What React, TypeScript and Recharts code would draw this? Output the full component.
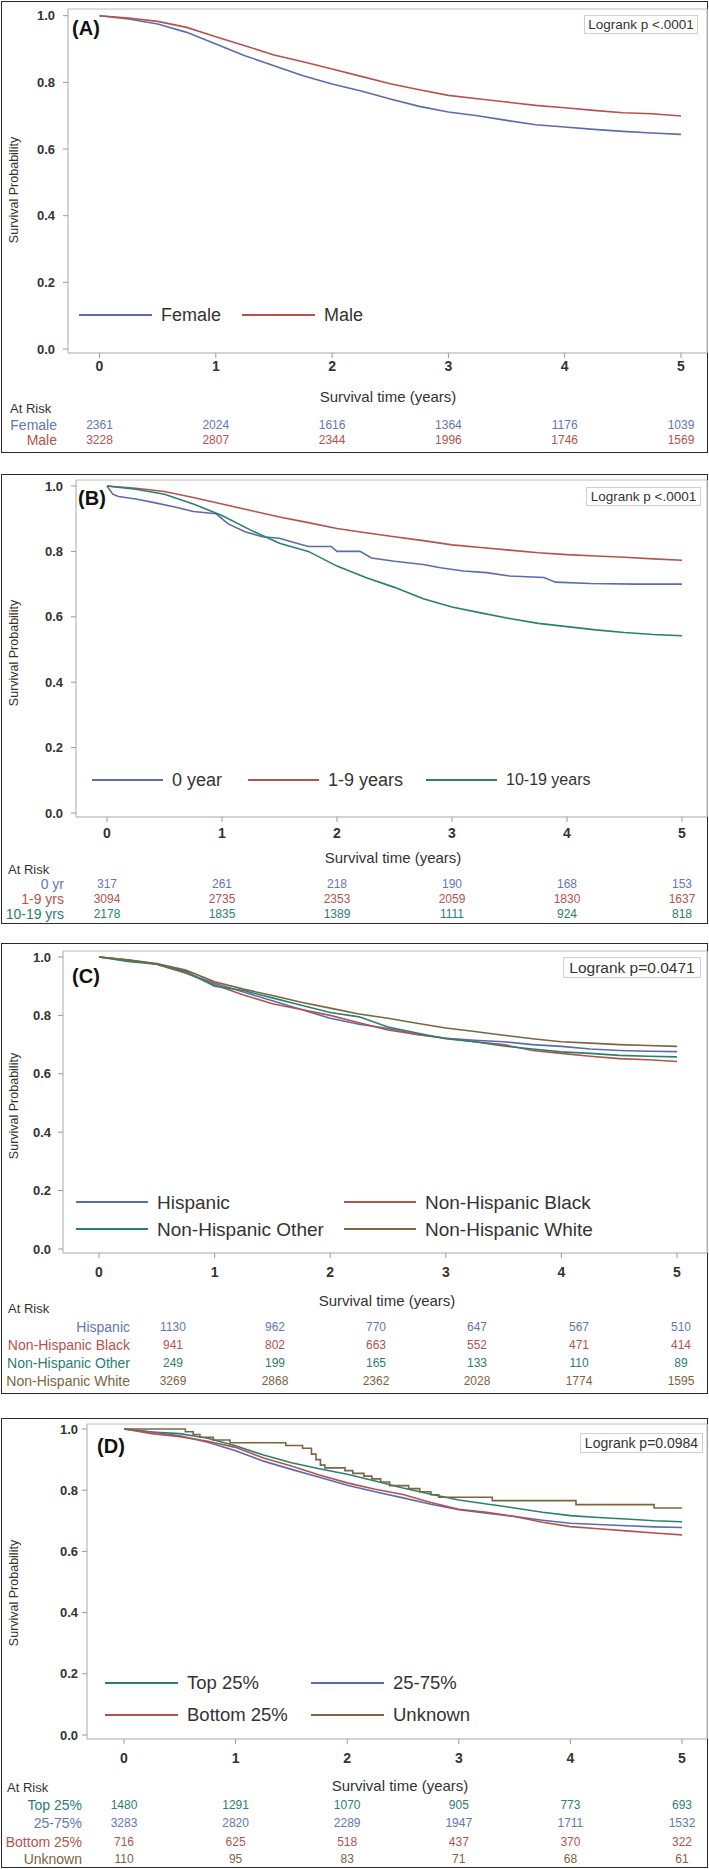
import React from "react";
import { LineChart, Line, XAxis, YAxis, ReferenceLine } from "recharts";

const FONT = '"Liberation Sans", Arial, Helvetica, sans-serif';
const INK = "#333333";
const BLUE = "#5b6cae";
const RED = "#b5524d";
const TEAL = "#2a8070";
const BROWN = "#7b6541";

const YEARS = [0, 1, 2, 3, 4, 5];
const PROB = [0, 0.2, 0.4, 0.6, 0.8, 1];
// times (years) the smooth curves were read at
const T = [0, 0.25, 0.5, 0.75, 1, 1.25, 1.5, 1.75, 2, 2.25, 2.5, 2.75, 3, 3.25, 3.5, 3.75, 4, 4.25, 4.5, 4.75, 5];

// (A) sex
const femaleSurv = [1, 0.99, 0.975, 0.95, 0.915, 0.88, 0.85, 0.82, 0.795, 0.774, 0.75, 0.728, 0.711, 0.7, 0.686, 0.673, 0.666, 0.659, 0.653, 0.648, 0.644];
const maleSurv = [1, 0.993, 0.983, 0.965, 0.937, 0.91, 0.882, 0.862, 0.84, 0.818, 0.796, 0.778, 0.761, 0.751, 0.741, 0.731, 0.724, 0.716, 0.709, 0.706, 0.699];
const femaleRisk = [2361, 2024, 1616, 1364, 1176, 1039];
const maleRisk = [3228, 2807, 2344, 1996, 1746, 1569];

// (B) age at diagnosis
const age0Times = [0, 0.05, 0.1, 0.25, 0.4, 0.6, 0.75, 0.95, 1.05, 1.2, 1.35, 1.5, 1.65, 1.75, 1.95, 2.0, 2.2, 2.3, 2.5, 2.75, 2.9, 3.1, 3.3, 3.5, 3.8, 3.9, 4.2, 4.6, 5];
const age0Surv = [1, 0.975, 0.968, 0.96, 0.95, 0.935, 0.922, 0.915, 0.885, 0.86, 0.845, 0.84, 0.825, 0.815, 0.815, 0.8, 0.8, 0.78, 0.77, 0.76, 0.75, 0.74, 0.735, 0.725, 0.72, 0.706, 0.702, 0.7, 0.7];
const age1to9Surv = [1, 0.993, 0.983, 0.965, 0.945, 0.925, 0.905, 0.888, 0.87, 0.857, 0.845, 0.833, 0.82, 0.812, 0.804, 0.796, 0.79, 0.786, 0.782, 0.777, 0.773];
const age10to19Surv = [1, 0.99, 0.975, 0.945, 0.91, 0.865, 0.825, 0.8, 0.755, 0.72, 0.69, 0.655, 0.63, 0.612, 0.595, 0.58, 0.57, 0.56, 0.552, 0.546, 0.542];
const age0Risk = [317, 261, 218, 190, 168, 153];
const age1to9Risk = [3094, 2735, 2353, 2059, 1830, 1637];
const age10to19Risk = [2178, 1835, 1389, 1111, 924, 818];

// (C) race / ethnicity
const hispanicSurv = [1, 0.99, 0.975, 0.945, 0.91, 0.88, 0.85, 0.82, 0.79, 0.77, 0.755, 0.735, 0.722, 0.715, 0.71, 0.7, 0.694, 0.685, 0.68, 0.677, 0.676];
const blackSurv = [1, 0.99, 0.975, 0.945, 0.905, 0.87, 0.84, 0.82, 0.8, 0.775, 0.75, 0.735, 0.722, 0.71, 0.7, 0.68, 0.67, 0.66, 0.652, 0.648, 0.642];
const otherSurv = [1, 0.985, 0.975, 0.95, 0.9, 0.885, 0.86, 0.835, 0.81, 0.795, 0.76, 0.74, 0.72, 0.71, 0.695, 0.685, 0.675, 0.67, 0.663, 0.66, 0.658];
const whiteSurv = [1, 0.99, 0.978, 0.955, 0.915, 0.89, 0.868, 0.845, 0.825, 0.805, 0.79, 0.773, 0.757, 0.745, 0.732, 0.72, 0.71, 0.705, 0.7, 0.697, 0.694];
const hispanicRisk = [1130, 962, 770, 647, 567, 510];
const blackRisk = [941, 802, 663, 552, 471, 414];
const otherRisk = [249, 199, 165, 133, 110, 89];
const whiteRisk = [3269, 2868, 2362, 2028, 1774, 1595];

// (D) neighbourhood income
const top25Surv = [1, 0.99, 0.985, 0.97, 0.945, 0.915, 0.89, 0.87, 0.852, 0.83, 0.807, 0.787, 0.768, 0.755, 0.742, 0.728, 0.717, 0.711, 0.706, 0.7, 0.697];
const mid50Surv = [1, 0.99, 0.978, 0.957, 0.929, 0.895, 0.868, 0.842, 0.816, 0.795, 0.775, 0.754, 0.736, 0.725, 0.714, 0.702, 0.692, 0.688, 0.684, 0.68, 0.678];
const bottom25Surv = [1, 0.985, 0.975, 0.96, 0.94, 0.905, 0.879, 0.85, 0.824, 0.803, 0.786, 0.76, 0.738, 0.728, 0.714, 0.695, 0.681, 0.674, 0.667, 0.66, 0.654];
const unknownTimes = [0, 0.55, 0.62, 0.68, 0.8, 0.95, 1.45, 1.6, 1.68, 1.72, 1.76, 1.8, 1.98, 2.05, 2.15, 2.22, 2.3, 2.38, 2.55, 2.65, 2.75, 2.82, 3.3, 4.05, 4.75, 5];
const unknownSurv = [1, 0.991, 0.982, 0.973, 0.964, 0.955, 0.946, 0.937, 0.918, 0.9, 0.882, 0.873, 0.864, 0.855, 0.846, 0.837, 0.827, 0.815, 0.805, 0.795, 0.785, 0.777, 0.766, 0.753, 0.742, 0.742];
const top25Risk = [1480, 1291, 1070, 905, 773, 693];
const mid50Risk = [3283, 2820, 2289, 1947, 1711, 1532];
const bottom25Risk = [716, 625, 518, 437, 370, 322];
const unknownRisk = [110, 95, 83, 71, 68, 61];

type Pt = { t: number; s: number };
const pts = (times: number[], surv: number[]): Pt[] => surv.map((s, i) => ({ t: times[i], s }));

interface Series { name: string; color: string; data: Pt[]; step?: boolean }
interface LegendItem { label: string; color: string; x: number; y: number; size: number }
interface RiskRow { label: string; color: string; values: number[]; y: number }

interface PanelCfg {
  letter: string;
  letterX: number;
  letterY: number;
  boxTop: number;
  boxBottom: number;
  axisX: number;
  t0: number;
  t5: number;
  frameTop: number;
  y1: number;
  y0: number;
  frameBottom: number;
  xTickMargin: number;
  yTickMargin: number;
  yTitleY: number;
  logrank: string;
  logBox: [number, number, number, number];
  logSize: number;
  series: Series[];
  legend: LegendItem[];
  legendLine: number;
  xTitle: [number, number];
  atRiskY: number;
  atRiskX: number;
  labelRight: number;
  riskCols?: number[];
  rows: RiskRow[];
}

const RIGHT = 707;
const XAH = 40;
const YW = 50;

function Txt(props: {
  x: number; y: number; size: number; color?: string; weight?: number | string;
  align?: "start" | "middle" | "end"; children: React.ReactNode;
}) {
  const tx = props.align === "end" ? "-100%" : props.align === "middle" ? "-50%" : "0";
  return (
    <div
      style={{
        position: "absolute",
        left: props.x,
        top: props.y,
        transform: `translate(${tx}, -50%)`,
        fontSize: props.size,
        color: props.color ?? INK,
        fontWeight: props.weight ?? "normal",
        fontFamily: FONT,
        whiteSpace: "nowrap",
        lineHeight: 1,
      }}
    >
      {props.children}
    </div>
  );
}

function Panel({ c }: { c: PanelCfg }) {
  const pxYear = (c.t5 - c.t0) / 5;
  const xMin = -(c.t0 - c.axisX) / pxYear;
  const xMax = 5 + (RIGHT - c.t5) / pxYear;
  const pxUnit = c.y0 - c.y1;
  const yMax = 1 + (c.y1 - c.frameTop) / pxUnit;
  const yMin = -(c.frameBottom - c.y0) / pxUnit;
  const chartTop = c.frameTop - 10;
  const chartH = c.frameBottom - c.frameTop + 10 + XAH;
  const colX = (t: number) => c.axisX + ((t - xMin) / (xMax - xMin)) * (RIGHT - c.axisX);
  const cols = c.riskCols ?? YEARS.map(colX);

  return (
    <>
      <div
        style={{
          position: "absolute",
          left: 1,
          top: c.boxTop,
          width: 707,
          height: c.boxBottom - c.boxTop,
          border: "1.5px solid #2a2a2a",
          boxSizing: "border-box",
        }}
      />
      <div style={{ position: "absolute", left: 0, top: chartTop }}>
        <LineChart
          width={709}
          height={chartH}
          margin={{ top: 10, right: 709 - RIGHT, bottom: 0, left: c.axisX - YW }}
        >
          <XAxis
            type="number"
            dataKey="t"
            domain={[xMin, xMax]}
            ticks={YEARS}
            allowDataOverflow
            height={XAH}
            tickSize={5}
            tickMargin={c.xTickMargin}
            axisLine={{ stroke: "#c4c4c4", strokeWidth: 1.5 }}
            tickLine={{ stroke: "#9a9a9a" }}
            tick={{ fill: INK, fontSize: 14, fontWeight: "bold", fontFamily: FONT }}
          />
          <YAxis
            type="number"
            dataKey="s"
            domain={[yMin, yMax]}
            ticks={PROB}
            allowDataOverflow
            width={YW}
            tickSize={5}
            tickMargin={c.yTickMargin}
            tickFormatter={(v: number) => v.toFixed(1)}
            axisLine={{ stroke: "#c4c4c4", strokeWidth: 1.5 }}
            tickLine={{ stroke: "#9a9a9a" }}
            tick={{ fill: INK, fontSize: 13, fontWeight: "bold", fontFamily: FONT }}
          />
          <ReferenceLine y={yMax} stroke="#d2d2d2" strokeWidth={1.5} />
          <ReferenceLine x={xMax} stroke="#d2d2d2" strokeWidth={1.5} />
          {c.series.map((s) => (
            <Line
              key={s.name}
              data={s.data}
              dataKey="s"
              name={s.name}
              type={s.step ? "stepAfter" : "linear"}
              stroke={s.color}
              strokeWidth={1.6}
              dot={false}
              activeDot={false}
              isAnimationActive={false}
            />
          ))}
        </LineChart>
      </div>

      <Txt x={c.letterX} y={c.letterY} size={20} weight="bold" color="#111">
        ({c.letter})
      </Txt>

      <div
        style={{
          position: "absolute",
          left: c.logBox[0],
          top: c.logBox[1],
          width: c.logBox[2],
          height: c.logBox[3],
          border: "1px solid #cfcfcf",
          boxSizing: "border-box",
          background: "#fff",
          display: "flex",
          alignItems: "center",
          justifyContent: "center",
          fontFamily: FONT,
          fontSize: c.logSize,
          color: INK,
          whiteSpace: "nowrap",
        }}
      >
        {c.logrank}
      </div>

      <div
        style={{
          position: "absolute",
          left: 14,
          top: c.yTitleY,
          transform: "translate(-50%, -50%) rotate(-90deg)",
          fontFamily: FONT,
          fontSize: 12.5,
          color: INK,
          whiteSpace: "nowrap",
          lineHeight: 1,
        }}
      >
        Survival Probability
      </div>

      {c.legend.map((l) => (
        <React.Fragment key={l.label}>
          <div
            style={{
              position: "absolute",
              left: l.x,
              top: l.y - 1,
              width: c.legendLine,
              height: 2,
              background: l.color,
            }}
          />
          <Txt x={l.x + c.legendLine + 9} y={l.y} size={l.size}>
            {l.label}
          </Txt>
        </React.Fragment>
      ))}

      <Txt x={c.xTitle[0]} y={c.xTitle[1]} size={15} align="middle">
        Survival time (years)
      </Txt>
      <Txt x={c.atRiskX} y={c.atRiskY} size={13}>
        At Risk
      </Txt>
      {c.rows.map((r) => (
        <React.Fragment key={r.label}>
          <Txt x={c.labelRight} y={r.y} size={14} color={r.color} align="end">
            {r.label}
          </Txt>
          {r.values.map((v, i) => (
            <Txt key={i} x={cols[i]} y={r.y} size={12} color={r.color} align="middle">
              {v}
            </Txt>
          ))}
        </React.Fragment>
      ))}
    </>
  );
}

const panels: PanelCfg[] = [
  {
    letter: "A", letterX: 72, letterY: 28, boxTop: 1, boxBottom: 453,
    axisX: 68, t0: 99.5, t5: 681, frameTop: 9, y1: 15.7, y0: 349, frameBottom: 353,
    xTickMargin: 3, yTickMargin: 8, yTitleY: 190,
    logrank: "Logrank p <.0001", logBox: [584, 15, 114, 19], logSize: 13.5,
    series: [
      { name: "Female", color: BLUE, data: pts(T, femaleSurv) },
      { name: "Male", color: RED, data: pts(T, maleSurv) },
    ],
    legendLine: 73,
    legend: [
      { label: "Female", color: BLUE, x: 79, y: 315, size: 18 },
      { label: "Male", color: RED, x: 242, y: 315, size: 18 },
    ],
    xTitle: [388, 396], atRiskX: 10, atRiskY: 408, labelRight: 57,
    rows: [
      { label: "Female", color: "#6475b6", values: femaleRisk, y: 425 },
      { label: "Male", color: RED, values: maleRisk, y: 440 },
    ],
  },
  {
    letter: "B", letterX: 78, letterY: 498, boxTop: 474, boxBottom: 924,
    axisX: 76, t0: 107, t5: 682, frameTop: 480, y1: 486, y0: 813, frameBottom: 817,
    xTickMargin: 6, yTickMargin: 8, yTitleY: 653,
    logrank: "Logrank p <.0001", logBox: [586, 487, 115, 19], logSize: 13.5,
    series: [
      { name: "0 year", color: BLUE, data: pts(age0Times, age0Surv) },
      { name: "1-9 years", color: RED, data: pts(T, age1to9Surv) },
      { name: "10-19 years", color: TEAL, data: pts(T, age10to19Surv) },
    ],
    legendLine: 71,
    legend: [
      { label: "0 year", color: BLUE, x: 92, y: 780, size: 18 },
      { label: "1-9 years", color: RED, x: 248, y: 780, size: 18 },
      { label: "10-19 years", color: TEAL, x: 426, y: 780, size: 16 },
    ],
    xTitle: [393, 857], atRiskX: 8, atRiskY: 869, labelRight: 64,
    rows: [
      { label: "0 yr", color: "#6475b6", values: age0Risk, y: 884 },
      { label: "1-9 yrs", color: RED, values: age1to9Risk, y: 899 },
      { label: "10-19 yrs", color: TEAL, values: age10to19Risk, y: 914 },
    ],
  },
  {
    letter: "C", letterX: 72, letterY: 976, boxTop: 943, boxBottom: 1394,
    axisX: 63, t0: 99, t5: 677, frameTop: 951, y1: 957, y0: 1249, frameBottom: 1253,
    xTickMargin: 9, yTickMargin: 7, yTitleY: 1106,
    logrank: "Logrank p=0.0471", logBox: [563, 957, 138, 21], logSize: 15.5,
    series: [
      { name: "Hispanic", color: BLUE, data: pts(T, hispanicSurv) },
      { name: "Non-Hispanic Black", color: RED, data: pts(T, blackSurv) },
      { name: "Non-Hispanic Other", color: TEAL, data: pts(T, otherSurv) },
      { name: "Non-Hispanic White", color: BROWN, data: pts(T, whiteSurv) },
    ],
    legendLine: 72,
    legend: [
      { label: "Hispanic", color: BLUE, x: 76, y: 1202, size: 19 },
      { label: "Non-Hispanic Black", color: RED, x: 344, y: 1202, size: 19 },
      { label: "Non-Hispanic Other", color: TEAL, x: 76, y: 1229, size: 19 },
      { label: "Non-Hispanic White", color: BROWN, x: 344, y: 1229, size: 19 },
    ],
    xTitle: [387, 1300], atRiskX: 8, atRiskY: 1308, labelRight: 130,
    riskCols: [173, 275, 376, 477, 579, 681],
    rows: [
      { label: "Hispanic", color: "#6475b6", values: hispanicRisk, y: 1327 },
      { label: "Non-Hispanic Black", color: RED, values: blackRisk, y: 1345 },
      { label: "Non-Hispanic Other", color: TEAL, values: otherRisk, y: 1363 },
      { label: "Non-Hispanic White", color: BROWN, values: whiteRisk, y: 1381 },
    ],
  },
  {
    letter: "D", letterX: 97, letterY: 1446, boxTop: 1418, boxBottom: 1868,
    axisX: 87, t0: 124, t5: 682, frameTop: 1424, y1: 1429, y0: 1735, frameBottom: 1739,
    xTickMargin: 9, yTickMargin: 4, yTitleY: 1593,
    logrank: "Logrank p=0.0984", logBox: [580, 1433, 123, 20], logSize: 14,
    series: [
      { name: "Top 25%", color: TEAL, data: pts(T, top25Surv) },
      { name: "25-75%", color: BLUE, data: pts(T, mid50Surv) },
      { name: "Bottom 25%", color: RED, data: pts(T, bottom25Surv) },
      { name: "Unknown", color: BROWN, data: pts(unknownTimes, unknownSurv), step: true },
    ],
    legendLine: 73,
    legend: [
      { label: "Top 25%", color: TEAL, x: 105, y: 1683, size: 18.5 },
      { label: "25-75%", color: BLUE, x: 311, y: 1683, size: 18.5 },
      { label: "Bottom 25%", color: RED, x: 105, y: 1715, size: 18.5 },
      { label: "Unknown", color: BROWN, x: 311, y: 1715, size: 18.5 },
    ],
    xTitle: [400, 1785], atRiskX: 7, atRiskY: 1787, labelRight: 82,
    rows: [
      { label: "Top 25%", color: TEAL, values: top25Risk, y: 1805 },
      { label: "25-75%", color: "#6475b6", values: mid50Risk, y: 1823 },
      { label: "Bottom 25%", color: RED, values: bottom25Risk, y: 1842 },
      { label: "Unknown", color: BROWN, values: unknownRisk, y: 1859 },
    ],
  },
];

export default function App() {
  return (
    <div
      style={{
        position: "absolute",
        left: 0,
        top: 0,
        width: 709,
        height: 1869,
        background: "#fff",
        overflow: "hidden",
      }}
    >
      {panels.map((p) => (
        <Panel key={p.letter} c={p} />
      ))}
    </div>
  );
}
